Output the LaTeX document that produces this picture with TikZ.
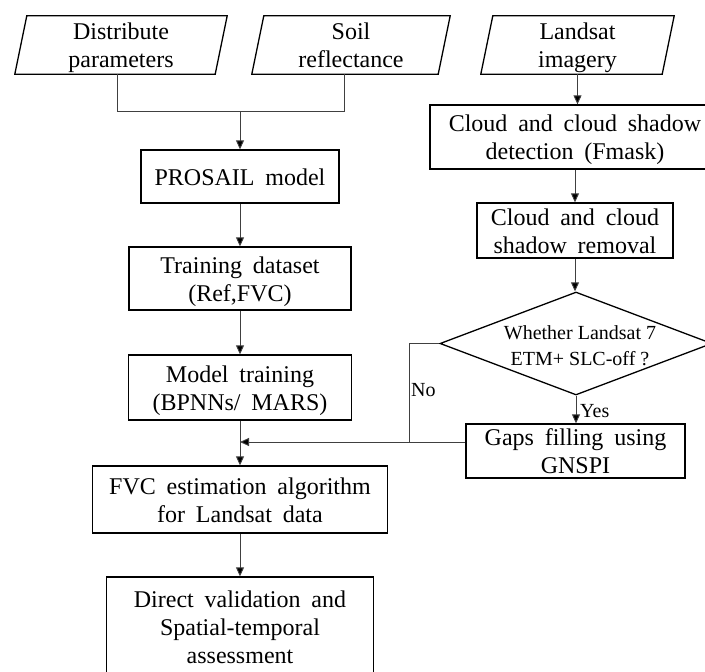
\documentclass[tikz,border=0pt]{standalone}
\usepackage{fontspec}
\setmainfont{Liberation Serif}
\usetikzlibrary{shapes.geometric,arrows.meta,calc}
\begin{document}
\begin{tikzpicture}[x=1pt,y=-1pt,
  txt/.style={font={\fontsize{24}{28}\selectfont\spaceskip=0.45em\relax}, align=center, inner sep=0pt, text depth=0pt, text height=17pt},
  two/.style={text height=45pt},
  three/.style={text height=73pt},
  small/.style={font={\fontsize{20}{26}\selectfont}, inner sep=0pt, text depth=0pt, text height=14pt},
  box/.style={txt, draw, line width=1.3pt, rectangle},
  io/.style={txt, rectangle},
  ioline/.style={draw, line width=1.3pt, line join=miter},
  conn/.style={draw=black!75, line width=0.9pt},
  arr/.style={conn, -{Triangle[length=9pt,width=8pt,fill=black]}}]
\useasboundingbox (0,0) rectangle (705,672);

% inputs (parallelograms)
\node[io, two, minimum width=212, minimum height=58] (dist) at (121,45) {Distribute\\parameters};
\node[io, two, minimum width=198, minimum height=58] (soil) at (351,45) {Soil\\reflectance};
\node[io, two, minimum width=193, minimum height=58] (land) at (577.5,45) {Landsat\\imagery};
\foreach \n in {dist,soil,land}{
  \draw[ioline] (\n.south west) -- ([xshift=-12pt]\n.south east) -- (\n.north east) -- ([xshift=12pt]\n.north west) -- cycle;
}

% left column
\node[box, minimum width=198, minimum height=53] (pro) at (240,176.5) {PROSAIL model};
\node[box, two, minimum width=222, minimum height=63] (train) at (240,278.5) {Training dataset\\(Ref,FVC)};
\node[box, two, minimum width=223, minimum height=65] (model) at (240,387.5) {Model training\\(BPNNs/ MARS)};
\node[box, two, minimum width=295, minimum height=67] (fvc) at (240,499.5) {FVC estimation algorithm\\for Landsat data};
\node[box, three, minimum width=267, minimum height=100] (dir) at (240,627) {Direct validation and\\Spatial-temporal\\assessment};

% right column
\node[box, two, minimum width=290, minimum height=64] (det) at (575,137) {Cloud and cloud shadow\\detection (Fmask)};
\node[box, two, minimum width=196, minimum height=55] (rem) at (575,230.5) {Cloud and cloud\\shadow removal};
\node[draw, line width=1.3pt, diamond, inner sep=0pt, minimum width=272, minimum height=103] (dec) at (576,343.5) {};
\node[small, align=center, text height=40pt] (dectxt) at (580,345) {Whether Landsat 7\\ETM+ SLC-off ?};
\node[box, two, minimum width=219, minimum height=54] (gaps) at (575.5,451) {Gaps filling using\\GNSPI};

\node[small, anchor=west] (yes) at (580,410) {Yes};
\node[small, anchor=west] (no) at (411,389) {No};

% connectors
\coordinate (j1) at (240,111);
\coordinate (nc) at (409,442);
\coordinate (jm) at (240,442);
\draw[conn] ([xshift=-4pt]dist.south) |- (j1);
\draw[conn] ([xshift=-7pt]soil.south) |- (j1);
\draw[arr] (j1) -- (pro.north);
\draw[arr] (pro.south) -- (train.north);
\draw[arr] (train.south) -- (model.north);
\draw[arr] (model.south) -- (fvc.north);
\draw[arr] (fvc.south) -- (dir.north);

\draw[arr] (land.south) -- (land.south |- det.north);
\draw[arr] (det.south) -- (rem.north);
\draw[arr] (rem.south) -- (rem.south |- dec.north);
\draw[arr] (dec.south) -- (dec.south |- gaps.north);
\draw[conn] (dec.west) -| (nc);
\draw[arr] (nc -| gaps.west) -- (jm);
\end{tikzpicture}
\end{document}
